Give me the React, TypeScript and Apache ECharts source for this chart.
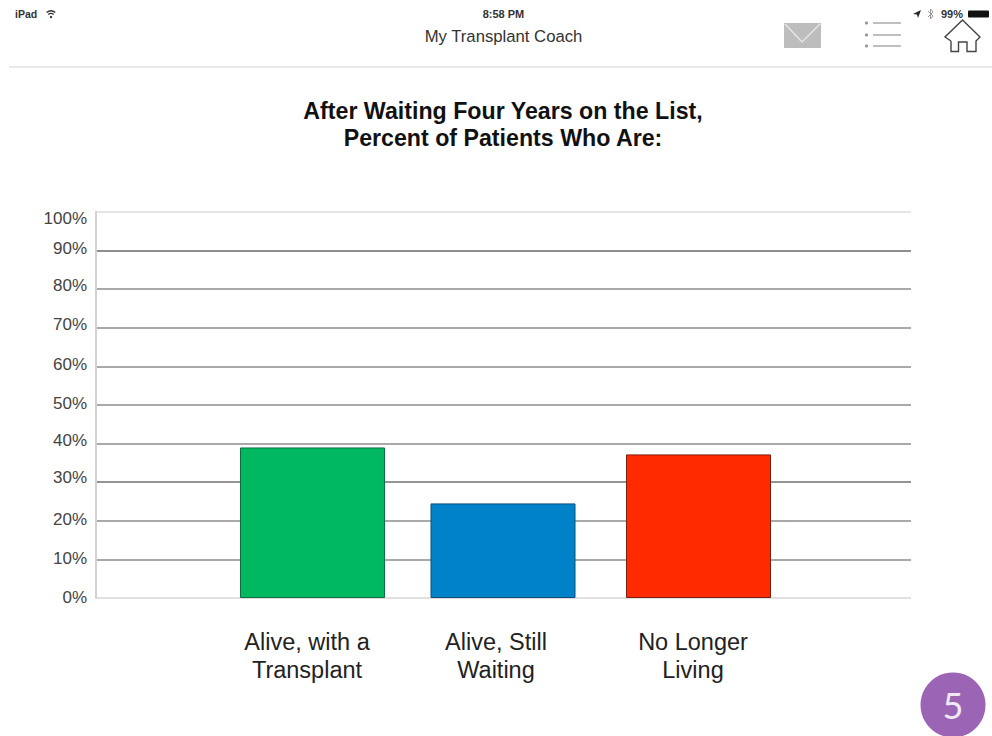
import React, { useEffect, useRef } from "react";
import * as echarts from "echarts";

const chartTitle = "After Waiting Four Years on the List,\nPercent of Patients Who Are:";
const outcomes = ["Alive, with a\nTransplant", "Alive, Still\nWaiting", "No Longer\nLiving"];
const percents = [39, 24.5, 37.2];
const barColors = ["#00b85f", "#0082c8", "#ff2a00"];
const barEdges = ["#0b6e42", "#0b4f78", "#7a2010"];
const tickValues = [0, 10, 20, 30, 40, 50, 60, 70, 80, 90, 100];

// Layout of the plot and its slightly uneven columns, in page pixels
const PLOT = { left: 96, top: 212, width: 815, height: 386 };
const BAR_WIDTH = 145;
const barCentres = [312.5, 503, 698.5];
const labelCentres = [307, 496, 693];
// Small vertical shift of each percent label relative to its gridline
const tickNudge: Record<number, number> = { 0: -1, 10: -1, 20: -1, 30: -5, 40: -3, 50: -2, 60: -2, 70: -3, 80: -4, 90: -2, 100: 6 };
const gridLineColors = ["#d6d6d6", "#8c8c8c", "#8c8c8c", "#707070", "#8c8c8c", "#8c8c8c", "#8c8c8c", "#8c8c8c", "#8c8c8c", "#686868", "#dcdcdc"];

const SANS = '"Liberation Sans", Arial, sans-serif';

function headerGraphics() {
  const text = (x: number, y: number, value: string, font: string, fill: string, textAlign = "left") => ({
    type: "text",
    silent: true,
    style: { x, y, text: value, font, fill, textAlign, textVerticalAlign: "middle" },
  });
  const stroke = (color: string, lineWidth: number) => ({ stroke: color, lineWidth, fill: "none" });
  return [
    text(15, 14, "iPad", `bold 10.5px ${SANS}`, "#333"),
    { type: "arc", shape: { cx: 51, cy: 18, r: 7, startAngle: -2.25, endAngle: -0.9 }, style: stroke("#333", 1.3) },
    { type: "arc", shape: { cx: 51, cy: 18, r: 4.5, startAngle: -2.25, endAngle: -0.9 }, style: stroke("#333", 1.3) },
    { type: "circle", shape: { cx: 51, cy: 17, r: 1.2 }, style: { fill: "#333" } },
    text(503.5, 14, "8:58 PM", `bold 11px ${SANS}`, "#333", "center"),
    text(503.5, 36, "My Transplant Coach", `16.7px ${SANS}`, "#333", "center"),
    { type: "polygon", shape: { points: [[913, 14], [921, 10], [918, 18], [917, 14.5]] }, style: { fill: "#222" } },
    { type: "polyline", shape: { points: [[928, 11], [933, 16], [930.5, 19], [930.5, 9], [933, 12], [928, 17]] }, style: stroke("#999", 1) },
    text(941, 14, "99%", `bold 11px ${SANS}`, "#333"),
    { type: "rect", shape: { x: 968, y: 10.5, width: 21, height: 7, r: 1 }, style: { fill: "#111" } },
    { type: "rect", shape: { x: 9, y: 66, width: 983, height: 2 }, style: { fill: "#e8e8e8" } },
    // Mail icon
    { type: "rect", shape: { x: 784, y: 23, width: 37, height: 25 }, style: { fill: "#bdbdbd" } },
    { type: "polyline", shape: { points: [[785, 24], [802, 42], [820, 24]] }, style: stroke("#e6e6e6", 1.5) },
    // List icon
    ...[23, 35, 46].flatMap((y) => [
      { type: "circle", shape: { cx: 866.5, cy: y, r: 1.6 }, style: { fill: "#999" } },
      { type: "line", shape: { x1: 873, y1: y, x2: 901, y2: y }, style: { stroke: "#aaa", lineWidth: 1.5 } },
    ]),
    // Home icon
    {
      type: "polyline",
      shape: {
        points: [[951, 41], [951, 51.5], [958.5, 51.5], [958.5, 42], [967, 42], [967, 51.5], [976, 51.5], [976, 41], [980, 37], [962.5, 20], [945, 37], [951, 41]],
      },
      style: stroke("#444", 1.4),
    },
    // Page number badge
    { type: "circle", shape: { cx: 953, cy: 705, r: 32.5 }, style: { fill: "#9b64b5" } },
    text(953, 705, "5", `36px Lato, ${SANS}`, "#f1e9f5", "center"),
  ];
}

function buildOption() {
  const barGrids = barCentres.map((centre) => ({
    left: centre - BAR_WIDTH / 2,
    top: PLOT.top,
    width: BAR_WIDTH,
    height: PLOT.height,
  }));
  return {
    animation: false,
    backgroundColor: "#ffffff",
    title: {
      text: chartTitle,
      left: 498,
      top: 92,
      textAlign: "center",
      textStyle: { fontFamily: SANS, fontSize: 23.2, fontWeight: "bold", color: "#111", lineHeight: 27 },
    },
    graphic: headerGraphics(),
    grid: [
      { left: PLOT.left, top: PLOT.top, width: PLOT.width, height: PLOT.height },
      ...barGrids,
    ],
    xAxis: [
      { type: "value", gridIndex: 0, min: 0, max: 1, show: false },
      ...outcomes.map((name, i) => ({
        type: "category",
        gridIndex: i + 1,
        data: [name],
        axisLine: { show: false },
        axisTick: { show: false },
        axisLabel: {
          interval: 0,
          margin: 30,
          fontFamily: SANS,
          fontSize: 23.5,
          lineHeight: 28,
          color: "#222",
          // Labels sit a little left of the column they name
          padding: [0, 2 * (barCentres[i] - labelCentres[i]), 0, 0],
        },
      })),
    ],
    yAxis: [
      {
        type: "value",
        gridIndex: 0,
        min: 0,
        max: 100,
        interval: 10,
        axisLine: { show: true, lineStyle: { color: "#d2d2d2", width: 2 } },
        axisTick: { show: false },
        splitLine: { show: true, lineStyle: { color: gridLineColors, width: 1.5 } },
        axisLabel: {
          margin: 9,
          color: "#444",
          formatter: (v: number) => `{n${v}|${v}%}`,
          rich: Object.fromEntries(
            tickValues.map((v) => {
              const pad = 2 * Math.abs(tickNudge[v]);
              return [
                `n${v}`,
                {
                  fontFamily: SANS,
                  fontSize: 17,
                  color: "#444",
                  padding: tickNudge[v] > 0 ? [pad, 0, 0, 0] : [0, 0, pad, 0],
                },
              ];
            })
          ),
        },
      },
      ...outcomes.map((_, i) => ({ type: "value", gridIndex: i + 1, min: 0, max: 100, show: false })),
    ],
    series: outcomes.map((name, i) => ({
      type: "bar",
      name,
      xAxisIndex: i + 1,
      yAxisIndex: i + 1,
      barWidth: BAR_WIDTH,
      data: [percents[i]],
      itemStyle: { color: barColors[i], borderColor: barEdges[i], borderWidth: 1 },
    })),
  };
}

export default function App() {
  const ref = useRef<HTMLDivElement>(null);
  useEffect(() => {
    const chart = echarts.init(ref.current!, undefined, { renderer: "svg" });
    chart.setOption(buildOption() as any);
    return () => chart.dispose();
  }, []);
  return <div ref={ref} style={{ position: "absolute", left: 0, top: 0, width: 992, height: 736 }} />;
}
